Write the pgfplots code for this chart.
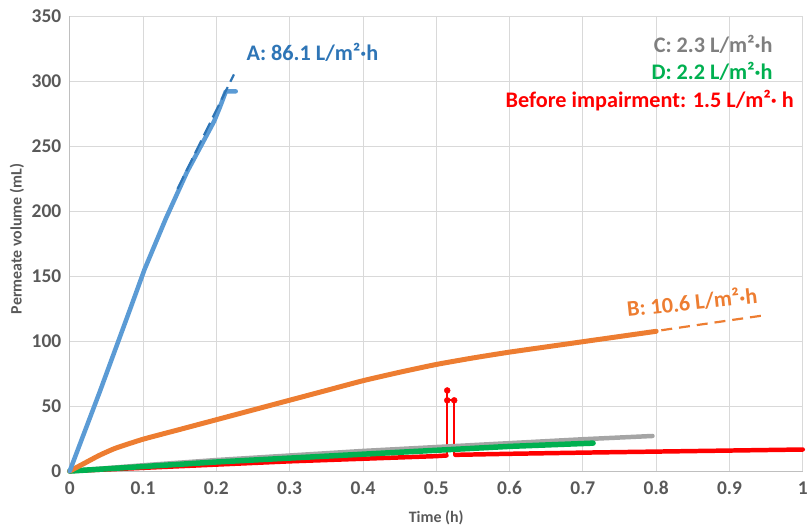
\documentclass[border=0pt]{standalone}
\usepackage{pgfplots}
\pgfplotsset{compat=1.18}
\usepackage{fontspec}
\setmainfont{Carlito}
\definecolor{tickgray}{HTML}{595959}
\definecolor{gridgray}{HTML}{D9D9D9}
\definecolor{axgray}{HTML}{BFBFBF}
\definecolor{cblue}{HTML}{5B9BD5}
\definecolor{dblue}{HTML}{2E75B6}
\definecolor{corange}{HTML}{ED7D31}
\definecolor{cgray}{HTML}{A5A5A5}
\definecolor{lgray}{HTML}{7F7F7F}
\definecolor{cgreen}{HTML}{00B050}
\definecolor{cred}{HTML}{FF0000}
\begin{document}
\begin{tikzpicture}
\begin{axis}[
  at={(0,0)}, anchor=south west,
  scale only axis, width=736pt, height=457pt,
  xmin=0, xmax=1, ymin=0, ymax=350,
  xtick={0,0.1,...,1}, ytick={0,50,...,350},
  axis lines*=left,
  axis line style={axgray, line width=0.8pt, -},
  grid=major, major grid style={gridgray, line width=0.8pt},
  tick style={draw=none},
  /pgf/number format/assume math mode=true,
  ticklabel style={font=\fontsize{19.5}{22}\selectfont\bfseries, text=tickgray},
  xticklabel style={yshift=-7pt},
  yticklabel style={xshift=-5pt},
  xlabel={Time (h)}, ylabel={Permeate volume (mL)},
  label style={font=\fontsize{16}{19}\selectfont\bfseries, text=tickgray},
  xlabel style={at={(axis description cs:0.5,-0.103)}, anchor=center},
  ylabel style={at={(axis description cs:-0.072,0.51)}, anchor=center},
  clip=false,
]
% Red (before impairment)
\addplot[cred, line width=4.5pt, line cap=round, line join=round] coordinates {
(0,0)(0.1,2.5)(0.2,5)(0.3,7.5)(0.4,9.5)(0.5,11.5)(0.514,12)};
\addplot[cred, line width=2pt, line join=round] coordinates {
(0.515,12)(0.515,62)(0.515,54.4)(0.5245,54.4)(0.5245,12.5)};
\addplot[cred, only marks, mark=*, mark size=3pt] coordinates {(0.515,62)(0.515,54.4)(0.5245,54.4)};
\addplot[cred, line width=4.5pt, line cap=round, line join=round] coordinates {
(0.526,12.5)(0.6,13.3)(0.7,14.2)(0.8,15)(0.9,15.8)(1.0,16.6)};
% Gray C
\addplot[cgray, line width=4.5pt, line cap=round, line join=round] coordinates {
(0,0)(0.1,4.5)(0.2,8.5)(0.3,12)(0.4,15.5)(0.5,18.5)(0.6,21.5)(0.7,24.5)(0.795,27)};
% Green D
\addplot[cgreen, line width=5.5pt, line cap=round, line join=round] coordinates {
(0,0)(0.1,3.5)(0.2,7)(0.3,10)(0.4,13)(0.5,16)(0.6,19)(0.714,21.5)};
% Orange B
\addplot[corange, line width=5pt, line cap=round, line join=round, smooth, tension=0.3] coordinates {
(0,0)(0.02,6)(0.04,12)(0.062,17.5)(0.1,24.5)(0.15,32)(0.2,39.5)(0.25,47)(0.3,54.5)(0.35,62)(0.4,69.5)(0.45,76)(0.5,82)(0.55,87)(0.6,91.5)(0.65,95.5)(0.7,99.5)(0.75,103.5)(0.8,107.5)};
\addplot[corange, line width=2.2pt, dash pattern=on 11pt off 7pt] coordinates {(0.807,108.3)(0.95,120)};
% Blue A
\addplot[cblue, line width=4.5pt, line cap=round, line join=round] coordinates {
(0,0)(0.041,61)(0.084,127)(0.102,155)(0.131,194)(0.16,230)(0.197,269)(0.205,280)(0.213,292)(0.2265,292)};
\addplot[dblue, line width=2.2pt, dash pattern=on 14pt off 6pt] coordinates {(0.147,217)(0.224,305)};
% Annotations
\node[anchor=west, inner sep=0pt, text=dblue, font=\fontsize{22.3}{26}\selectfont\bfseries] at (axis cs:0.241,322) {A: 86.1 L/m²·h};
\node[rotate=6, inner sep=0pt, text=corange, font=\fontsize{22.3}{26}\selectfont\bfseries] at (axis cs:0.849,130) {B: 10.6 L/m²·h};
\node[anchor=east, inner sep=0pt, text=lgray, font=\fontsize{22.3}{26}\selectfont\bfseries] at (axis cs:0.959,328.5) {C: 2.3 L/m²·h};
\node[anchor=east, inner sep=0pt, text=cgreen, font=\fontsize{22.3}{26}\selectfont\bfseries] at (axis cs:0.959,307) {D: 2.2 L/m²·h};
\node[anchor=east, inner sep=0pt, text=cred, font=\fontsize{22.3}{26}\selectfont\bfseries] at (axis cs:0.988,285) {Before impairment: 1.5 L/m²· h};
\end{axis}
\path[use as bounding box] (-70pt,-59pt) rectangle (741pt,473pt);
\end{tikzpicture}
\end{document}
